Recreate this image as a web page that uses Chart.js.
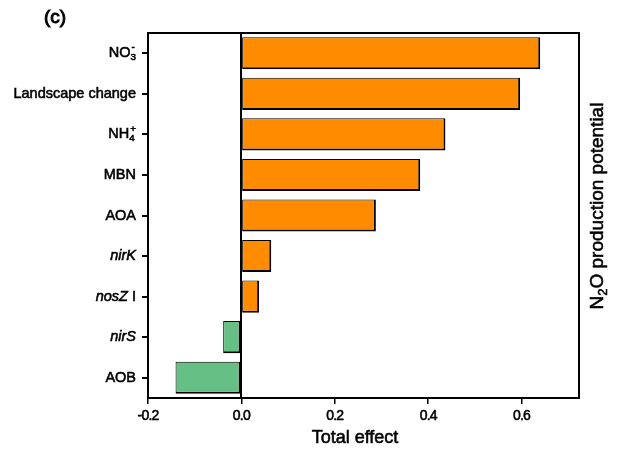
<!DOCTYPE html>
<html>
<head>
<meta charset="utf-8">
<script src="https://cdn.jsdelivr.net/npm/chart.js@4.4.1/dist/chart.umd.min.js"></script>
<style>
  html, body { margin: 0; padding: 0; background: #ffffff; }
  #wrap { width: 624px; height: 452px; }
</style>
</head>
<body>
<div id="wrap"><canvas id="c" width="624" height="452"></canvas></div>
<script>
// ---- data ----
// markup: *..* italic, _x subscript, ^x superscript
const categories = ['NO_3^-', 'Landscape change', 'NH_4^+', 'MBN', 'AOA', '*nirK*', '*nosZ* I', '*nirS*', 'AOB'];
const totalEffect = [0.640, 0.597, 0.437, 0.383, 0.288, 0.064, 0.038, -0.039, -0.141];
const xTickValues = [-0.2, 0.0, 0.2, 0.4, 0.6];
const xTickLabels = ['-0.2', '0.0', '0.2', '0.4', '0.6'];
const panelLabel = '(c)';
const xTitle = 'Total effect';
const rightTitle = 'N_2O production potential';

const FONT = "'Liberation Sans', Arial, sans-serif";
const ORANGE = '#FF8C00';
const GREEN = '#66BF84';
const HEAVY = 0.55; // faux-heavy stroke width for text

function parseRich(s) {
  const segs = [];
  let italic = false;
  let buf = '';
  const flush = () => { if (buf) { segs.push({ t: buf, italic, mode: 'n' }); buf = ''; } };
  for (let i = 0; i < s.length; i++) {
    const ch = s[i];
    if (ch === '*') { flush(); italic = !italic; }
    else if (ch === '_' || ch === '^') {
      flush();
      segs.push({ t: s[i + 1], italic, mode: ch === '_' ? 'sub' : 'sup' });
      i++;
    } else buf += ch;
  }
  flush();
  return segs;
}

function layoutRich(ctx, segs, size) {
  let x = 0;
  let lastSubStart = null;
  const items = [];
  segs.forEach(sg => {
    const small = sg.mode !== 'n';
    const fs = small ? size * 0.68 : size;
    const font = (sg.italic ? 'italic ' : '') + fs + 'px ' + FONT;
    ctx.font = font;
    const w = ctx.measureText(sg.t).width;
    let dy = 0;
    if (sg.mode === 'sub') dy = size * 0.28;
    if (sg.mode === 'sup') dy = -size * 0.38;
    if (sg.mode === 'sup' && lastSubStart !== null) {
      items.push({ t: sg.t, font, dx: lastSubStart + 1, dy });
      x = Math.max(x, lastSubStart + 1 + w);
      lastSubStart = null;
      return;
    }
    items.push({ t: sg.t, font, dx: x, dy });
    lastSubStart = sg.mode === 'sub' ? x : null;
    x += w;
  });
  return { items, width: x };
}

function heavyText(ctx, t, x, y) {
  ctx.fillText(t, x, y);
  ctx.strokeText(t, x, y);
}

function drawRich(ctx, str, size, x, y, align) {
  const segs = parseRich(str);
  const lay = layoutRich(ctx, segs, size);
  let x0 = x;
  if (align === 'right') x0 = x - lay.width;
  else if (align === 'center') x0 = x - lay.width / 2;
  ctx.textBaseline = 'middle';
  ctx.textAlign = 'left';
  lay.items.forEach(it => {
    ctx.font = it.font;
    heavyText(ctx, it.t, x0 + it.dx, y + it.dy);
  });
}

const decorPlugin = {
  id: 'decor',
  afterDatasetsDraw(chart) {
    const ctx = chart.ctx;
    const a = chart.chartArea;
    const xs = chart.scales.x;
    ctx.save();
    ctx.strokeStyle = '#000';
    ctx.lineWidth = 2;
    const x0 = Math.round(xs.getPixelForValue(0));
    ctx.beginPath();
    ctx.moveTo(x0, a.top);
    ctx.lineTo(x0, a.bottom);
    ctx.stroke();
    ctx.strokeRect(a.left, a.top, a.right - a.left, a.bottom - a.top);
    ctx.restore();
  },
  afterDraw(chart) {
    const ctx = chart.ctx;
    const a = chart.chartArea;
    const xs = chart.scales.x;
    const ys = chart.scales.y;
    ctx.save();
    ctx.fillStyle = '#000';
    ctx.strokeStyle = '#000';
    ctx.lineWidth = HEAVY;
    // y tick labels (rich text)
    categories.forEach((lab, i) => {
      drawRich(ctx, lab, 14.5, a.left - 12, ys.getPixelForValue(i), 'right');
    });
    // x tick labels
    ctx.font = '14px ' + FONT;
    ctx.letterSpacing = '-0.8px';
    ctx.textAlign = 'center';
    ctx.textBaseline = 'middle';
    xTickValues.forEach((v, i) => {
      heavyText(ctx, xTickLabels[i], xs.getPixelForValue(v), 416);
    });
    ctx.letterSpacing = '0px';
    // panel label
    ctx.font = '19px ' + FONT;
    ctx.lineWidth = 1;
    heavyText(ctx, panelLabel, 55, 18);
    ctx.lineWidth = HEAVY;
    // x title
    ctx.font = '18px ' + FONT;
    heavyText(ctx, xTitle, 355, 438);
    // right title rotated
    ctx.translate(598, 206);
    ctx.rotate(-Math.PI / 2);
    drawRich(ctx, rightTitle, 19, 0, 0, 'center');
    ctx.restore();
  }
};

const chart = new Chart(document.getElementById('c'), {
  type: 'bar',
  data: {
    labels: categories,
    datasets: [{
      data: totalEffect,
      backgroundColor: totalEffect.map(v => v >= 0 ? ORANGE : GREEN),
      borderColor: '#000',
      borderWidth: { top: 1, left: 1, right: 2, bottom: 2 },
      borderSkipped: false,
      barPercentage: 0.9,
      categoryPercentage: 0.88
    }]
  },
  options: {
    indexAxis: 'y',
    responsive: false,
    animation: false,
    devicePixelRatio: 1,
    layout: { padding: { top: 33, right: 45, bottom: 0, left: 0 } },
    plugins: { legend: { display: false }, tooltip: { enabled: false } },
    scales: {
      x: {
        type: 'linear',
        min: -0.2,
        max: 0.723,
        afterBuildTicks(scale) { scale.ticks = xTickValues.map(v => ({ value: v })); },
        afterFit(scale) { scale.height = 54; },
        ticks: { display: false },
        grid: { drawOnChartArea: false, drawTicks: true, tickLength: 6, color: '#000', lineWidth: 1.5 },
        border: { display: false }
      },
      y: {
        type: 'category',
        afterFit(scale) { scale.width = 148; },
        ticks: { display: false },
        grid: { drawOnChartArea: false, drawTicks: true, tickLength: 6, color: '#000', lineWidth: 2, offset: false },
        border: { display: false }
      }
    }
  },
  plugins: [decorPlugin]
});
</script>
</body>
</html>
